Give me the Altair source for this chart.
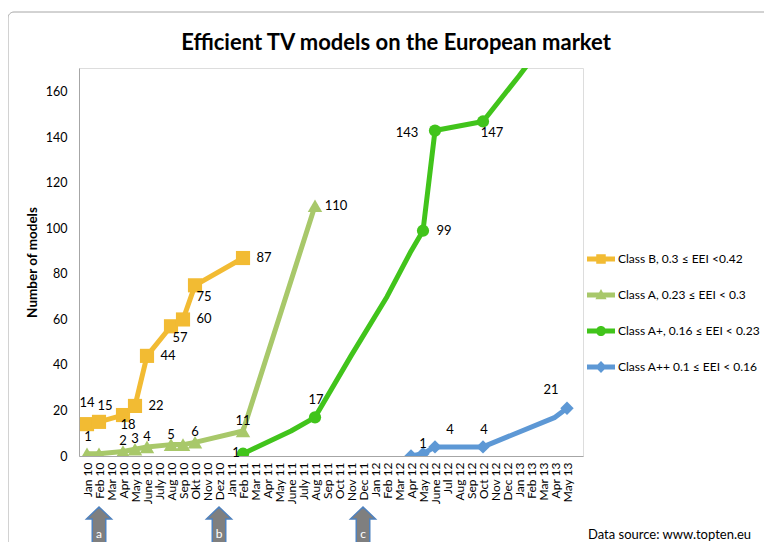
import altair as alt
import pandas as pd

FONT = "Lato"

months = ["Jan 10", "Feb 10", "Mar 10", "Apr 10", "May 10", "June 10", "July 10", "Aug 10", "Sep 10", "Okt 10", "Nov 10", "Dez 10",
          "Jan 11", "Feb 11", "Mar 11", "Apr 11", "May 11", "June 11", "July 11", "Aug 11", "Sep 11", "Oct 11", "Nov 11", "Dec 11",
          "Jan 12", "Feb 12", "Mar 12", "Apr 12", "May 12", "June 12", "Jul 12", "Aug 12", "Sep 12", "Oct 12", "Nov 12", "Dec 12",
          "Jan 13", "Feb 13", "Mar 13", "Apr 13", "May 13"]

series_names = ["Class B, 0.3 \u2264 EEI <0.42", "Class A, 0.23 \u2264 EEI < 0.3",
                "Class A+, 0.16 \u2264 EEI < 0.23", "Class A++ 0.1 \u2264 EEI < 0.16"]
series_colors = ["#F2BB33", "#A8C86A", "#41C41B", "#5D98D5"]

# Class B
b_months = ["Jan 10", "Feb 10", "Apr 10", "May 10", "June 10", "Aug 10", "Sep 10", "Okt 10", "Feb 11"]
b_values = [14, 15, 18, 22, 44, 57, 60, 75, 87]
b_marked = b_months
b_labeled = b_months

# Class A
a_months = ["Jan 10", "Feb 10", "Apr 10", "May 10", "June 10", "Aug 10", "Sep 10", "Okt 10", "Feb 11", "Aug 11"]
a_values = [1, 1, 2, 3, 4, 5, 5, 6, 11, 110]
a_marked = a_months
a_labeled = ["Jan 10", "Apr 10", "May 10", "June 10", "Aug 10", "Okt 10", "Feb 11", "Aug 11"]

# Class A+
ap_months = ["Feb 11", "June 11", "Aug 11", "Nov 11", "Feb 12", "Apr 12", "May 12", "June 12", "Oct 12",
             "Jan 13", "Feb 13", "May 13"]
ap_values = [1, 11, 17, 44, 70, 90, 99, 143, 147, 167, 174, 195]
ap_marked = ["Feb 11", "Aug 11", "May 12", "June 12", "Oct 12"]
ap_labeled = ap_marked

# Class A++
app_months = ["Apr 12", "May 12", "June 12", "Oct 12", "Apr 13", "May 13"]
app_values = [0, 1, 4, 4, 17, 21]
app_marked = ["Apr 12", "May 12", "June 12", "Oct 12", "May 13"]
app_labeled = ["May 12", "June 12", "Oct 12", "May 13"]

# label placement (style): offsets in pixels
placements = {
    "up": (1, -17), "uphigh": (0, -21), "upshift": (6, -16), "upnear": (0, -10),
    "downnear": (5, 10), "right": (21, 0), "downright": (9, 12), "left": (-28, 2),
    "leftnear": (-7, -1), "upright": (15, -17), "upleft": (-16, -18),
}
b_place = ["uphigh", "upshift", "downnear", "right", "right", "downright", "right", "downright", "right"]
a_place = ["up", "upnear", "upnear", "upnear", "upnear", "upnear", "upnear", "right"]
ap_place = ["leftnear", "up", "right", "left", "downright"]
app_place = ["upnear", "upright", "up", "upleft"]

marker_shapes = ["square", "triangle-up", "circle", "diamond"]
marker_sizes = [200, 210, 150, 180]

legend_paths = [
    "M-1,-0.18H1V0.18H-1Z M-0.34,-0.34H0.34V0.34H-0.34Z",
    "M-1,-0.18H1V0.18H-1Z M0,-0.42L0.4,0.3H-0.4Z",
    "M-1,-0.18H1V0.18H-1Z M-0.36,0A0.36,0.36 0 1,1 0.36,0A0.36,0.36 0 1,1 -0.36,0Z",
    "M-1,-0.18H1V0.18H-1Z M0,-0.42L0.42,0L0,0.42L-0.42,0Z",
]

arrow_months = ["Feb 10", "Dez 10", "Dec 11"]
arrow_letters = ["a", "b", "c"]
ARROW = "M0,-1L0.5,-0.52L0.27,-0.52L0.27,1L-0.27,1L-0.27,-0.52L-0.5,-0.52Z"

# ---------------------------------------------------------------
def frame(ms, vs, name):
    return pd.DataFrame({"month": ms, "value": vs, "series": name,
                         "idx": [months.index(m) for m in ms]})

X = alt.X("month:N", sort=months,
          scale=alt.Scale(domain=months, type="point", padding=1, align=1 / 3),
          axis=alt.Axis(title=None, labelAngle=270, labelAlign="right", labelBaseline="middle",
                        ticks=False, domainColor="#A6A6A6", labelPadding=6, labelFont=FONT,
                        labelFontSize=12, labelColor="black", labelOverlap=False))
Y = alt.Y("value:Q", scale=alt.Scale(domain=[0, 170.5], nice=False),
          axis=alt.Axis(values=list(range(0, 161, 20)), title="Number of models", grid=False,
                        ticks=False, domainColor="#A6A6A6", labelPadding=12, labelFont=FONT,
                        labelFontSize=12.5, labelColor="black", titleFont=FONT, titleFontSize=13.5,
                        titleFontWeight="bold", titleColor="black", titlePadding=6))

all_series = [
    (b_months, b_values, b_marked, b_labeled, b_place),
    (a_months, a_values, a_marked, a_labeled, a_place),
    (ap_months, ap_values, ap_marked, ap_labeled, ap_place),
    (app_months, app_values, app_marked, app_labeled, app_place),
]

line_layers, marker_layers, label_rows = [], [], []
for i, (ms, vs, mk, lb, pl) in enumerate(all_series):
    df = frame(ms, vs, series_names[i])
    line_layers.append(
        alt.Chart(df).mark_line(color=series_colors[i], strokeWidth=5, clip=True,
                                strokeJoin="round", strokeCap="round")
        .encode(x=X, y=Y, order="idx:Q"))
    marker_layers.append(
        alt.Chart(df[df.month.isin(mk)]).mark_point(shape=marker_shapes[i], filled=True,
                                                     size=marker_sizes[i], color=series_colors[i],
                                                     opacity=1, clip=True)
        .encode(x=X, y=Y))
    for m, p in zip(lb, pl):
        v = vs[ms.index(m)]
        label_rows.append({"month": m, "value": v, "text": str(v), "place": p})

labels_df = pd.DataFrame(label_rows)
label_layers = []
for p, (dx, dy) in placements.items():
    sub = labels_df[labels_df.place == p]
    if len(sub):
        label_layers.append(
            alt.Chart(sub).mark_text(dx=dx, dy=dy, font=FONT, fontSize=13, color="black",
                                     align="center", baseline="middle")
            .encode(x=X, y=Y, text="text:N"))

legend = alt.Legend(title=None, orient="none", legendX=508, legendY=177, symbolSize=784,
                    symbolStrokeWidth=0, labelFont=FONT, labelFontSize=12, labelColor="black",
                    labelOffset=3, rowPadding=16, padding=0, labelLimit=300, symbolOpacity=1)
dummy = alt.Chart(pd.DataFrame({"series": series_names, "month": ["Jan 10"] * 4,
                                "value": [-60] * 4})).mark_point(filled=True, clip=True, opacity=1).encode(
    x=X, y=Y,
    color=alt.Color("series:N", scale=alt.Scale(domain=series_names, range=series_colors),
                    sort=series_names, legend=legend),
    shape=alt.Shape("series:N", scale=alt.Scale(domain=series_names, range=legend_paths),
                    sort=series_names, legend=legend))

arrow_df = pd.DataFrame({"month": arrow_months, "letter": arrow_letters})
arrows = alt.Chart(arrow_df).mark_point(shape=ARROW, size=2500, filled=True, fill="#7F7F7F",
                                        stroke="#4F81BD", strokeWidth=1.5, opacity=1).encode(
    x=X, y=alt.value(464))
letters = alt.Chart(arrow_df).mark_text(color="white", font=FONT, fontSize=12).encode(
    x=X, y=alt.value(466), text="letter:N")

one = pd.DataFrame({"a": [0]})
border = alt.Chart(one).mark_rect(fillOpacity=0, stroke="#A6A6A6", strokeWidth=1, cornerRadius=6).encode(
    x=alt.value(-71), y=alt.value(-56), x2=alt.value(900), y2=alt.value(700))
title = alt.Chart(one).mark_text(text="Efficient TV models on the European market", font=FONT,
                                 fontSize=22, fontWeight="bold", color="black", align="center",
                                 baseline="alphabetic").encode(x=alt.value(317), y=alt.value(-18))
source = alt.Chart(one).mark_text(text="Data source: www.topten.eu", font=FONT, fontSize=13,
                                  color="black", align="left", baseline="middle").encode(
    x=alt.value(509), y=alt.value(467))

chart = alt.layer(border, title, *line_layers, *marker_layers, dummy, *label_layers,
                  arrows, letters, source).properties(
    width=504, height=388,
    autosize=alt.AutoSizeParams(type="none"),
    padding={"left": 71, "top": 60, "right": 181, "bottom": 86},
).configure_view(stroke=None).configure(font=FONT)

chart.save("out.html", embed_options={"renderer": "svg", "actions": False})
